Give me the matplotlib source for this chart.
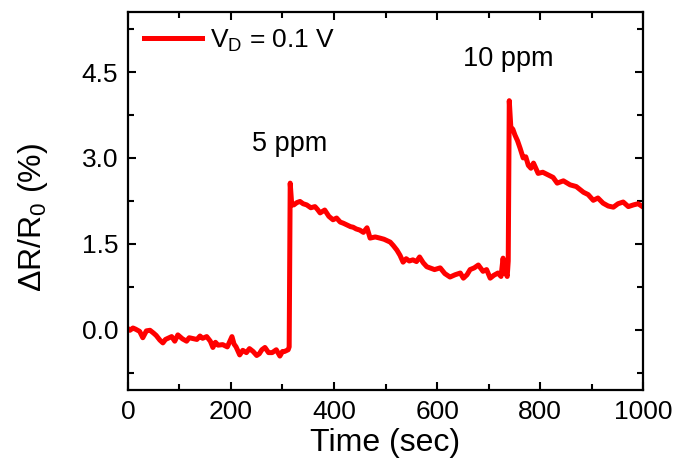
import matplotlib
matplotlib.use("Agg")
import matplotlib.pyplot as plt
from matplotlib.ticker import MultipleLocator

plt.rcParams['font.family'] = ['Liberation Sans', 'DejaVu Sans']
plt.rcParams['mathtext.fontset'] = 'custom'
plt.rcParams['mathtext.rm'] = 'Liberation Sans'

# time (sec) and response (%)
time_sec = [0, 4, 10, 15, 23, 29, 36, 43, 50, 55, 62, 68, 73, 78, 85, 91, 97, 106,
            114, 119, 124, 134, 140, 145, 153, 160, 165, 170, 175, 184, 193, 202,
            206, 210, 217, 223, 230, 236, 243, 250, 255, 260, 266, 273, 280, 288,
            295, 300, 304, 311, 313, 315, 318, 322, 328, 334, 340, 347, 355, 363,
            368, 373, 382, 390, 398, 405, 412, 418, 425, 432, 437, 443, 450, 457,
            464, 470, 480, 489, 497, 509, 515, 522, 528, 534, 540, 546, 553, 560,
            566, 573, 580, 586, 595, 606, 615, 625, 635, 645, 651, 658, 664, 672,
            680, 689, 696, 703, 710, 718, 724, 728, 731, 733, 736, 738, 740, 743,
            747, 751, 756, 761, 767, 772, 777, 782, 787, 796, 805, 816, 825, 833,
            845, 858, 870, 884, 893, 903, 912, 922, 932, 942, 951, 961, 971, 981,
            990, 1000]
response = [0.02, -0.01, 0.03, 0.01, -0.03, -0.14, -0.02, -0.01, -0.06, -0.1,
            -0.18, -0.23, -0.17, -0.15, -0.12, -0.2, -0.09, -0.16, -0.2, -0.14,
            -0.15, -0.17, -0.11, -0.15, -0.12, -0.2, -0.31, -0.22, -0.27, -0.26,
            -0.3, -0.12, -0.25, -0.3, -0.44, -0.36, -0.4, -0.33, -0.38, -0.45,
            -0.42, -0.35, -0.31, -0.4, -0.4, -0.35, -0.46, -0.38, -0.38, -0.35,
            -0.3, 2.56, 2.18, 2.18, 2.22, 2.24, 2.2, 2.18, 2.13, 2.15, 2.1, 2.04,
            2.09, 1.98, 1.92, 1.95, 1.88, 1.86, 1.83, 1.8, 1.79, 1.76, 1.74, 1.7,
            1.78, 1.6, 1.62, 1.6, 1.58, 1.53, 1.47, 1.39, 1.3, 1.18, 1.24, 1.2,
            1.22, 1.19, 1.27, 1.17, 1.1, 1.08, 1.05, 1.08, 0.98, 0.92, 0.96, 0.99,
            0.9, 0.96, 1.05, 1.08, 1.13, 1.02, 1.05, 0.9, 0.95, 0.99, 0.93, 1.25,
            0.98, 1.0, 0.93, 1.2, 4.0, 3.54, 3.5, 3.4, 3.3, 3.17, 3.0, 3.02, 2.87,
            2.82, 2.91, 2.73, 2.75, 2.7, 2.66, 2.56, 2.6, 2.53, 2.5, 2.4, 2.36,
            2.26, 2.3, 2.21, 2.16, 2.14, 2.2, 2.23, 2.15, 2.18, 2.2, 2.14]

fig = plt.figure(figsize=(6.8, 4.76), dpi=100)
ax = fig.add_axes([0.188, 0.181, 0.758, 0.794])

ax.plot(time_sec, response, color='#ff0000', lw=3.6, label=r'V$_\mathregular{D}$ = 0.1 V')

ax.text(313, 3.02, '5 ppm', fontsize=19.5, ha='center', va='bottom')
ax.text(738, 4.5, '10 ppm', fontsize=19.5, ha='center', va='bottom')

ax.set_xlim(0, 1000)
ax.set_ylim(-1.05, 5.55)
ax.xaxis.set_major_locator(MultipleLocator(200))
ax.xaxis.set_minor_locator(MultipleLocator(100))
ax.yaxis.set_major_locator(MultipleLocator(1.5))
ax.yaxis.set_minor_locator(MultipleLocator(0.75))
ax.yaxis.set_major_formatter(plt.FormatStrFormatter('%.1f'))

ax.tick_params(which='both', direction='in', top=True, right=True, width=1.5, labelsize=19)
ax.tick_params(which='major', length=6, pad=7)
ax.tick_params(which='minor', length=4)
for s in ax.spines.values():
    s.set_linewidth(1.6)

ax.set_xlabel('Time (sec)', fontsize=23, labelpad=3)
ax.set_ylabel(r'$\Delta$R/R$_\mathregular{0}$ (%)', fontsize=23, va='center')
ax.yaxis.set_label_coords(-0.184, 0.455)

ax.legend(loc='upper left', frameon=False, fontsize=19, handlelength=2.2,
          borderaxespad=0.2, handletextpad=0.3)

fig.savefig('out.png', dpi=100)
